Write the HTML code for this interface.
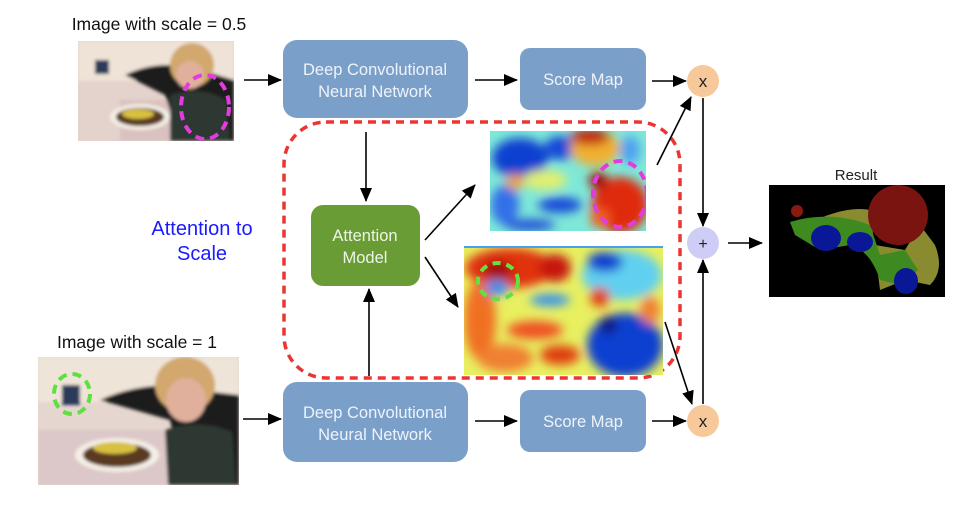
<!DOCTYPE html>
<html><head><meta charset="utf-8"><style>
html,body{margin:0;padding:0;background:#fff;}
svg{display:block;font-family:"Liberation Sans",sans-serif;}
</style></head><body>
<svg width="974" height="518" viewBox="0 0 974 518" xmlns="http://www.w3.org/2000/svg">
<defs>
<marker id="ar" markerWidth="14" markerHeight="14" refX="13" refY="6" orient="auto" markerUnits="userSpaceOnUse">
<path d="M0,0 L14,6 L0,12 z" fill="#000"/></marker>
<filter id="bl" x="-20%" y="-20%" width="140%" height="140%"><feGaussianBlur stdDeviation="5"/></filter>
<filter id="bl2"><feGaussianBlur stdDeviation="1.5"/></filter>
<clipPath id="h1"><rect x="490" y="131" width="156" height="100"/></clipPath>
<clipPath id="h2"><rect x="464" y="246" width="199" height="129"/></clipPath>
<clipPath id="p1"><rect x="78" y="41" width="156" height="100"/></clipPath>
<clipPath id="p2"><rect x="38" y="357" width="201" height="128"/></clipPath>
</defs>

<text x="159" y="30" font-size="17.5" text-anchor="middle" fill="#111">Image with scale = 0.5</text>
<text x="137" y="348" font-size="17.5" text-anchor="middle" fill="#111">Image with scale = 1</text>
<text x="202" y="235" font-size="20" text-anchor="middle" fill="#1a1aff">Attention to</text>
<text x="202" y="260" font-size="20" text-anchor="middle" fill="#1a1aff">Scale</text>
<text x="856" y="180" font-size="15" text-anchor="middle" fill="#222">Result</text>

<!-- photo 1 -->
<g clip-path="url(#p1)">
<rect x="78" y="41" width="156" height="100" fill="#e4d2cc"/>
<g filter="url(#bl2)">
<rect x="78" y="41" width="156" height="40" fill="#efe3d8"/>
<rect x="120" y="100" width="114" height="41" fill="#d9c2c0"/>
<path d="M125,75 Q160,58 200,70 L234,80 L234,141 L180,141 L165,95 Z" fill="#1e1e1e"/>
<ellipse cx="192" cy="65" rx="22" ry="22" fill="#d2a86e"/>
<ellipse cx="190" cy="75" rx="14" ry="14" fill="#e0b09c"/>
<path d="M170,95 Q200,85 226,100 L230,141 L170,141 Z" fill="#2e3832"/>
<ellipse cx="140" cy="117" rx="30" ry="13" fill="#f4efe6"/>
<ellipse cx="140" cy="117" rx="24" ry="9" fill="#5a3a22"/>
<ellipse cx="138" cy="114" rx="16" ry="5" fill="#d8c040"/>
<rect x="95" y="60" width="14" height="14" fill="#2a3a5a"/>
</g>
<ellipse cx="205" cy="107" rx="24" ry="32" fill="none" stroke="#e23cdf" stroke-width="4" stroke-dasharray="9,6"/>
</g>

<!-- photo 2 -->
<g clip-path="url(#p2)">
<rect x="38" y="357" width="201" height="128" fill="#e6d6d0"/>
<g filter="url(#bl2)">
<rect x="38" y="357" width="201" height="45" fill="#efe4d8"/>
<rect x="38" y="430" width="140" height="55" fill="#dcc8c8"/>
<path d="M100,400 Q150,378 195,390 L239,395 L239,485 L185,485 L170,420 Z" fill="#1e1e1e"/>
<ellipse cx="185" cy="385" rx="30" ry="28" fill="#d2a86e"/>
<ellipse cx="186" cy="400" rx="20" ry="22" fill="#e0b09c"/>
<path d="M165,430 Q200,418 232,432 L236,485 L168,485 Z" fill="#2e3832"/>
<ellipse cx="117" cy="455" rx="42" ry="17" fill="#f4efe6"/>
<ellipse cx="117" cy="455" rx="34" ry="12" fill="#5a3a22"/>
<ellipse cx="115" cy="448" rx="22" ry="6" fill="#d8c040"/>
<rect x="62" y="385" width="18" height="20" fill="#2a3a5a"/>
</g>
<ellipse cx="72" cy="394" rx="18" ry="20" fill="none" stroke="#5fe040" stroke-width="4" stroke-dasharray="9,6"/>
</g>

<rect x="283" y="40" width="185" height="78" rx="14" fill="#7a9fc9"/>
<text x="375" y="75" font-size="16.5" text-anchor="middle" fill="#eef3fa">Deep Convolutional</text>
<text x="375" y="97" font-size="16.5" text-anchor="middle" fill="#eef3fa">Neural Network</text>
<rect x="283" y="382" width="185" height="80" rx="14" fill="#7a9fc9"/>
<text x="375" y="418" font-size="16.5" text-anchor="middle" fill="#eef3fa">Deep Convolutional</text>
<text x="375" y="440" font-size="16.5" text-anchor="middle" fill="#eef3fa">Neural Network</text>

<rect x="520" y="48" width="126" height="62" rx="10" fill="#7a9fc9"/>
<text x="583" y="85" font-size="16.5" text-anchor="middle" fill="#eef3fa">Score Map</text>
<rect x="520" y="390" width="126" height="62" rx="10" fill="#7a9fc9"/>
<text x="583" y="427" font-size="16.5" text-anchor="middle" fill="#eef3fa">Score Map</text>

<rect x="284" y="122" width="396" height="256" rx="42" fill="none" stroke="#ee3333" stroke-width="3.5" stroke-dasharray="8,6"/>

<rect x="311" y="205" width="109" height="81" rx="12" fill="#6a9c36"/>
<text x="365" y="241" font-size="16.5" text-anchor="middle" fill="#eef5e6">Attention</text>
<text x="365" y="263" font-size="16.5" text-anchor="middle" fill="#eef5e6">Model</text>

<!-- heatmap 1 -->
<g clip-path="url(#h1)">
<rect x="490" y="131" width="156" height="100" fill="#7ee8d8"/>
<g filter="url(#bl)">
<ellipse cx="520" cy="158" rx="28" ry="20" fill="#1040d0"/>
<ellipse cx="560" cy="148" rx="16" ry="12" fill="#1848d8"/>
<ellipse cx="505" cy="205" rx="14" ry="20" fill="#3070e8"/>
<ellipse cx="560" cy="205" rx="22" ry="8" fill="#1848d8"/>
<ellipse cx="530" cy="225" rx="25" ry="6" fill="#2050d8"/>
<ellipse cx="545" cy="180" rx="22" ry="10" fill="#e0f070"/>
<ellipse cx="515" cy="182" rx="9" ry="8" fill="#f0a040"/>
<ellipse cx="595" cy="148" rx="25" ry="18" fill="#f0b030"/>
<ellipse cx="620" cy="205" rx="28" ry="28" fill="#e02a10"/>
<ellipse cx="598" cy="180" rx="9" ry="9" fill="#a01010"/>
<ellipse cx="630" cy="150" rx="10" ry="14" fill="#50a0f0"/>
<ellipse cx="590" cy="137" rx="20" ry="8" fill="#c02010"/>
<ellipse cx="600" cy="218" rx="10" ry="10" fill="#f06020"/>
</g>
<ellipse cx="620" cy="194" rx="27" ry="33" fill="none" stroke="#e23cdf" stroke-width="4" stroke-dasharray="9,6"/>
</g>

<!-- heatmap 2 -->
<g clip-path="url(#h2)">
<rect x="464" y="246" width="199" height="129" fill="#e8f060"/>
<g filter="url(#bl)">
<ellipse cx="510" cy="268" rx="45" ry="20" fill="#e03010"/>
<ellipse cx="480" cy="320" rx="16" ry="40" fill="#f07020"/>
<ellipse cx="498" cy="270" rx="14" ry="9" fill="#a01010"/>
<ellipse cx="555" cy="268" rx="16" ry="14" fill="#c81810"/>
<ellipse cx="622" cy="275" rx="40" ry="25" fill="#60d0f0"/>
<ellipse cx="605" cy="262" rx="18" ry="10" fill="#1040d0"/>
<ellipse cx="625" cy="345" rx="38" ry="32" fill="#1040d0"/>
<ellipse cx="608" cy="325" rx="9" ry="9" fill="#081880"/>
<ellipse cx="535" cy="330" rx="28" ry="9" fill="#f05020"/>
<ellipse cx="505" cy="358" rx="28" ry="14" fill="#f08030"/>
<ellipse cx="600" cy="297" rx="10" ry="10" fill="#e04010"/>
<ellipse cx="550" cy="300" rx="20" ry="6" fill="#3090f0"/>
<ellipse cx="650" cy="310" rx="10" ry="14" fill="#f08030"/>
<ellipse cx="497" cy="288" rx="12" ry="8" fill="#3090f0"/>
<ellipse cx="560" cy="355" rx="20" ry="10" fill="#e04010"/>
</g>
<rect x="464" y="246" width="199" height="2" fill="#4aa0f0"/>
<ellipse cx="498" cy="281" rx="20" ry="18" fill="none" stroke="#66e040" stroke-width="4" stroke-dasharray="8,6"/>
</g>

<circle cx="703" cy="81" r="16" fill="#f7c99a"/>
<text x="703" y="87" font-size="17" text-anchor="middle" fill="#222">x</text>
<circle cx="703" cy="421" r="16" fill="#f7c99a"/>
<text x="703" y="427" font-size="17" text-anchor="middle" fill="#222">x</text>
<circle cx="703" cy="243" r="16" fill="#cdcdf5"/>
<text x="703" y="249" font-size="16" text-anchor="middle" fill="#222">+</text>

<rect x="769" y="185" width="176" height="112" fill="#000"/>
<path d="M805,225 Q845,205 870,210 L880,290 L905,280 L930,285 Q945,270 935,245 L920,225 L905,250 L875,245 Z" fill="#8a8a30"/>
<path d="M790,222 Q830,210 870,225 L880,255 L905,250 L918,270 L900,285 L880,280 Q870,250 850,245 L820,250 L795,235 Z" fill="#3e8a20"/>
<circle cx="898" cy="215" r="30" fill="#7a1410"/>
<circle cx="797" cy="211" r="6" fill="#8a1a10"/>
<ellipse cx="826" cy="238" rx="15" ry="13" fill="#0a1898"/>
<ellipse cx="860" cy="242" rx="13" ry="10" fill="#0a1898"/>
<ellipse cx="906" cy="281" rx="12" ry="13" fill="#0a1898"/>

<g stroke="#000" stroke-width="1.6" fill="none" marker-end="url(#ar)">
<line x1="244" y1="80" x2="281" y2="80"/>
<line x1="243" y1="419" x2="281" y2="419"/>
<line x1="475" y1="80" x2="517" y2="80"/>
<line x1="475" y1="421" x2="517" y2="421"/>
<line x1="652" y1="81" x2="686" y2="81"/>
<line x1="652" y1="421" x2="686" y2="421"/>
<line x1="366" y1="132" x2="366" y2="201"/>
<line x1="369" y1="376" x2="369" y2="289"/>
<line x1="425" y1="240" x2="475" y2="185"/>
<line x1="425" y1="257" x2="458" y2="307"/>
<line x1="657" y1="165" x2="691" y2="97"/>
<line x1="665" y1="322" x2="692" y2="404"/>
<line x1="703" y1="98" x2="703" y2="226"/>
<line x1="703" y1="404" x2="703" y2="260"/>
<line x1="728" y1="243" x2="762" y2="243"/>
</g>
</svg>
</body></html>
